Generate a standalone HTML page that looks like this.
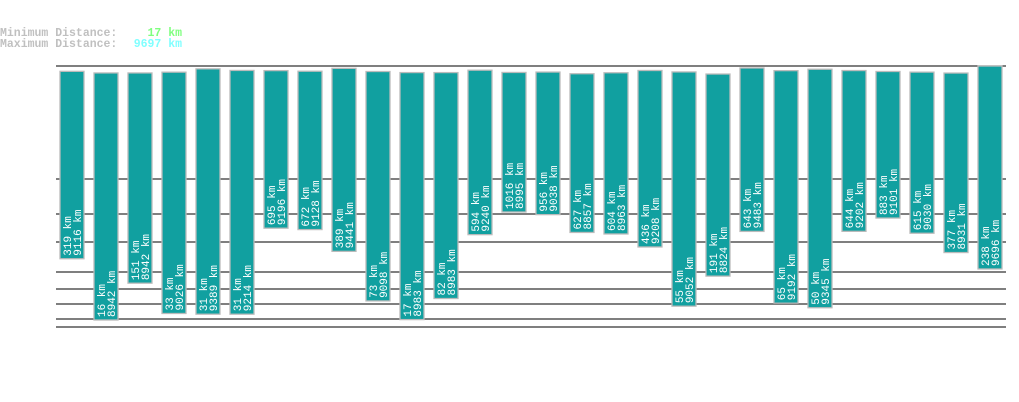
<!DOCTYPE html>
<html><head><meta charset="utf-8"><style>
body{margin:0;background:#fff;width:1019px;height:402px;overflow:hidden}
svg{display:block}
text{font-family:"Liberation Mono","DejaVu Sans Mono",monospace}
</style></head><body>
<svg id="chart" width="1019" height="402" xmlns="http://www.w3.org/2000/svg">
<g font-size="11.5" font-weight="bold">
<text x="0" y="36" fill="#c0c0c0">Minimum Distance:</text>
<text x="182" y="36" fill="#80ff80" text-anchor="end">17 km</text>
<text x="0" y="47" fill="#c0c0c0">Maximum Distance:</text>
<text x="182" y="47" fill="#80ffff" text-anchor="end">9697 km</text>
</g>
<g id="grid"></g>
<g id="bars"></g>
</svg>
<script>
const minKm=[319,16,151,33,31,31,695,672,389,73,17,82,594,1016,956,627,604,436,55,191,643,65,50,644,883,615,377,238];
const maxKm=[9116,8942,8942,9026,9389,9214,9196,9128,9441,9098,8983,8983,9240,8995,9038,8857,8963,9208,9052,8824,9483,9192,9345,9202,9101,9030,8931,9696];
const gridYs=[66,179,214,242,272,289,304,319,327];
const NS="http://www.w3.org/2000/svg";
const grid=document.getElementById('grid'),bars=document.getElementById('bars');
gridYs.forEach(y=>{const l=document.createElementNS(NS,'line');


l.setAttribute('x1',56);l.setAttribute('x2',1006);l.setAttribute('y1',y);l.setAttribute('y2',y);
l.setAttribute('stroke','#333');l.setAttribute('stroke-width','1.3');grid.appendChild(l);});
const topY=v=>66+(9697-v)*0.0092;
const botY=v=>{const a=Math.log10(16+100),b=Math.log10(1016+100);return 320-(Math.log10(v+100)-a)/(b-a)*108;};
minKm.forEach((mn,i)=>{const mx=maxKm[i];const x=60+34*i;const t=topY(mx),b=botY(mn);
const g=document.createElementNS(NS,'g');


const r=document.createElementNS(NS,'rect');


r.setAttribute('x',x);r.setAttribute('y',t);r.setAttribute('width',24);r.setAttribute('height',b-t);
r.setAttribute('fill','#11a0a0');r.setAttribute('stroke','#bbb');r.setAttribute('stroke-width','1.3');g.appendChild(r);
[[mn,x+11],[mx,x+21]].forEach(([v,cx],k)=>{const tx=document.createElementNS(NS,'text');


tx.setAttribute('transform','translate('+cx+','+(b-3)+') rotate(-90)');
tx.setAttribute('fill','#fff');tx.setAttribute('font-size','11');tx.textContent=v+' km';g.appendChild(tx);});
bars.appendChild(g);});
</script>
</body></html>
